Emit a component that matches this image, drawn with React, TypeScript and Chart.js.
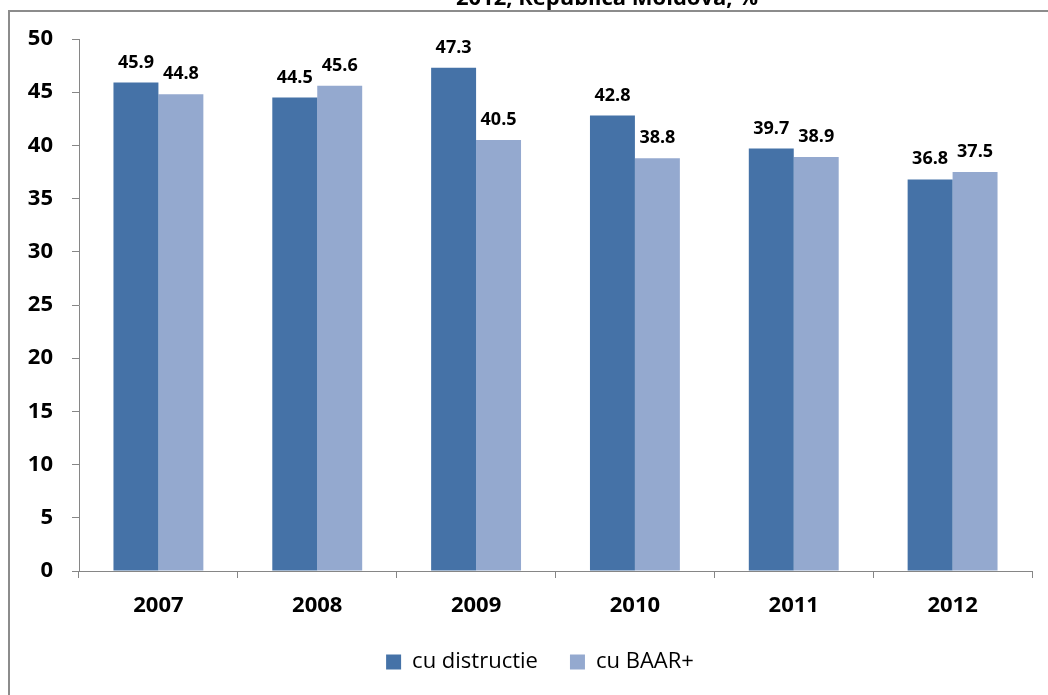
import React, { useEffect, useRef } from "react";
import { Chart, registerables } from "chart.js";

Chart.register(...registerables);

const categories = ["2007", "2008", "2009", "2010", "2011", "2012"];
const seriesDistructie = [45.9, 44.5, 47.3, 42.8, 39.7, 36.8];
const seriesBaar = [44.8, 45.6, 40.5, 38.8, 38.9, 37.5];
const seriesNames = ["cu distructie", "cu BAAR+"];
const titleText = "2012, Republica Moldova, %";
const yMin = 0;
const yMax = 50;
const yStep = 5;

const FONT = "'Open Sans', 'DejaVu Sans', sans-serif";
const DARK = "#4572A7";
const LIGHT = "#94A9CF";
const AXIS = "#868686";

const framePlugin = {
  id: "frame",
  afterLayout(chart: any) {
    if (chart.legend) {
      chart.legend.left += 24;
      chart.legend.right += 24;
    }
  },
  beforeDraw(chart: any) {
    const ctx = chart.ctx;
    ctx.save();
    ctx.fillStyle = "#ffffff";
    ctx.fillRect(0, 0, chart.width, chart.height);
    ctx.strokeStyle = "#8c8c8c";
    ctx.lineWidth = 2;
    ctx.beginPath();
    ctx.moveTo(chart.width, 11);
    ctx.lineTo(9, 11);
    ctx.lineTo(9, chart.height);
    ctx.stroke();
    ctx.fillStyle = "#000000";
    ctx.font = `bold 22px ${FONT}`;
    ctx.textAlign = "center";
    ctx.textBaseline = "alphabetic";
    ctx.fillText(titleText, 607, 5);
    ctx.restore();
  },
};

const labelPlugin = {
  id: "barLabels",
  afterDatasetsDraw(chart: any) {
    const ctx = chart.ctx;
    ctx.save();
    ctx.fillStyle = "#000000";
    ctx.font = `bold 18px ${FONT}`;
    ctx.textAlign = "center";
    ctx.textBaseline = "alphabetic";
    chart.data.datasets.forEach((ds: any, di: number) => {
      const meta = chart.getDatasetMeta(di);
      meta.data.forEach((el: any, i: number) => {
        ctx.fillText(Number(ds.data[i]).toFixed(1), el.x, el.y - 15);
      });
    });
    ctx.restore();
  },
};

export default function App() {
  const ref = useRef<HTMLCanvasElement>(null);
  useEffect(() => {
    if (!ref.current) return;
    const chart = new Chart(ref.current, {
      type: "bar",
      data: {
        labels: categories,
        datasets: [
          { label: seriesNames[0], data: seriesDistructie, backgroundColor: DARK, borderWidth: 0 },
          { label: seriesNames[1], data: seriesBaar, backgroundColor: LIGHT, borderWidth: 0 },
        ],
      },
      options: {
        responsive: false,
        animation: false,
        devicePixelRatio: 1,
        layout: { padding: { left: 0, top: 39, right: 16, bottom: 12 } },
        datasets: { bar: { categoryPercentage: 0.566, barPercentage: 1 } },
        scales: {
          x: {
            afterFit(scale: any) {
              scale.height = 48;
            },
            grid: {
              offset: true,
              drawOnChartArea: false,
              drawTicks: true,
              tickLength: 7,
              color: AXIS,
            },
            border: { display: true, color: AXIS, width: 1 },
            ticks: {
              color: "#000000",
              padding: 15,
              font: { family: FONT, size: 22, weight: "bold" },
            },
          },
          y: {
            min: yMin,
            max: yMax,
            afterFit(scale: any) {
              scale.width = 79;
            },
            grid: {
              drawOnChartArea: false,
              drawTicks: true,
              tickLength: 7,
              color: AXIS,
            },
            border: { display: true, color: AXIS, width: 1 },
            ticks: {
              stepSize: yStep,
              color: "#000000",
              padding: 19,
              font: { family: FONT, size: 22, weight: "bold" },
            },
          },
        },
        plugins: {
          legend: {
            display: true,
            position: "bottom",
            labels: {
              boxWidth: 15,
              boxHeight: 15,
              padding: 32,
              color: "#000000",
              font: { family: FONT, size: 22 },
            },
          },
          title: { display: false },
          tooltip: { enabled: false },
        },
      },
      plugins: [framePlugin, labelPlugin],
    } as any);
    return () => chart.destroy();
  }, []);
  return (
    <div style={{ position: "absolute", left: 0, top: 0, width: 1048, height: 695, overflow: "hidden" }}>
      <canvas ref={ref} width={1048} height={695} style={{ display: "block" }} />
    </div>
  );
}
